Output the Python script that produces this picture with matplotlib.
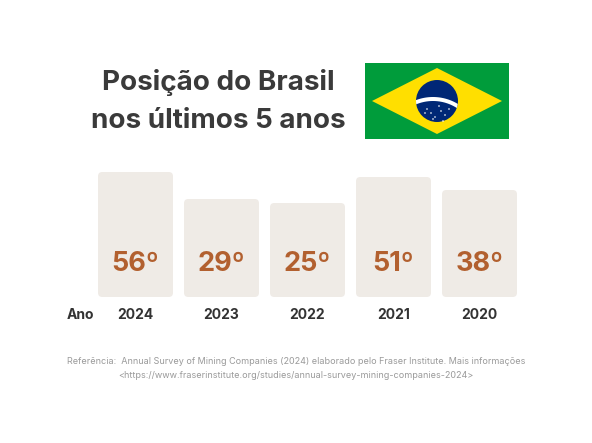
import matplotlib
matplotlib.use("Agg")
import matplotlib.pyplot as plt
from matplotlib.patches import FancyBboxPatch, Polygon, Circle, Rectangle
import numpy as np

years = ["2024", "2023", "2022", "2021", "2020"]
ranks = [56, 29, 25, 51, 38]
offset = 69  # visual baseline added to each bar

W, H = 592, 443
fig = plt.figure(figsize=(W/100, H/100), dpi=100)
fig.patch.set_facecolor("white")
ax = fig.add_axes([0, 0, 1, 1])
ax.set_xlim(-135.5/86, (W-135.5)/86)
ax.set_ylim(-146, H-146)
ax.axis("off")

font = "Inter"
bw = 75/86
for i, (y, r) in enumerate(zip(years, ranks)):
    h = r + offset
    ax.add_patch(FancyBboxPatch((i-bw/2, 0), bw, h,
                                boxstyle="round,pad=0,rounding_size=0.05",
                                mutation_aspect=86, fc="#efebe6", ec="none"))
    ax.text(i, 33, f"{r}º", ha="center", va="center", fontsize=19.5,
            fontweight="bold", color="#b2602f", family=font)
    ax.text(i, -18, y, ha="center", va="center", fontsize=10,
            fontweight="bold", color="#333333", family=font)
ax.text(-0.64, -18, "Ano", ha="center", va="center", fontsize=10,
        fontweight="bold", color="#333333", family=font)

fig.text(218/W, 1-83/H, "Posição do Brasil", ha="center", va="center",
         fontsize=20, fontweight="bold", color="#3a3a3a", family=font)
fig.text(218/W, 1-121/H, "nos últimos 5 anos", ha="center", va="center",
         fontsize=20, fontweight="bold", color="#3a3a3a", family=font)

fig.text(296/W, 1-362/H,
         "Referência:  Annual Survey of Mining Companies (2024) elaborado pelo Fraser Institute. Mais informações",
         ha="center", va="center", fontsize=6.5, color="#9a9a9a", family=font)
fig.text(296/W, 1-375/H,
         "<https://www.fraserinstitute.org/studies/annual-survey-mining-companies-2024>",
         ha="center", va="center", fontsize=6.5, color="#9a9a9a", family=font)

# flag
fa = fig.add_axes([365/W, 1-139/H, 144/W, 76/H])
fa.set_xlim(0, 144); fa.set_ylim(0, 76); fa.axis("off")
fa.add_patch(Rectangle((0, 0), 144, 76, fc="#009c3b", ec="none"))
fa.add_patch(Polygon([(7, 38), (72, 71), (137, 38), (72, 5)], fc="#ffdf00", ec="none"))
circ = Circle((72, 38), 21, fc="#002776", ec="none")
fa.add_patch(circ)
r1, r2 = 44, 48
t = np.linspace(0, np.pi, 80)
cx, cy = 68, -6
pts = [(cx+r2*np.cos(a), cy+r2*np.sin(a)) for a in t] + [(cx+r1*np.cos(a), cy+r1*np.sin(a)) for a in t[::-1]]
band = Polygon(pts, fc="white", ec="none")
fa.add_patch(band); band.set_clip_path(circ)
for p in [(62, 30), (66, 26), (70, 22), (76, 28), (80, 24), (84, 30), (74, 33), (68, 20), (78, 18), (60, 26)]:
    fa.add_patch(Circle(p, 0.8, fc="white", ec="none"))

fig.savefig("out.png", dpi=100, facecolor="white")
